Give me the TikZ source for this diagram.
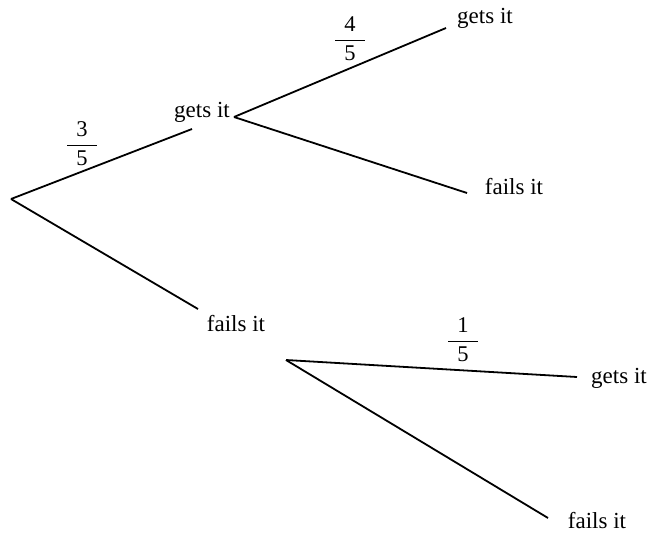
\documentclass[tikz,border=0pt]{standalone}
\usepackage{amsmath}
\usepackage{fontspec}
\setmainfont{Liberation Serif}
\usetikzlibrary{calc}

\begin{document}
\begin{tikzpicture}[x=1pt, y=-1pt]
  \tikzset{
    outcome/.style={inner sep=0pt, font=\fontsize{23}{27}\selectfont},
    prob/.style={inner sep=0pt, font=\fontsize{22.5}{26}\selectfont},
    branch/.style={line width=1.8pt},
  }

  \newcommand{\probfrac}[2]{$\displaystyle\genfrac{}{}{1.6pt}{0}{\hbox to 30pt{\hss#1\hss}}{\hbox{#2}}$}

  \useasboundingbox (0,0) rectangle (652,535);

  % labels
  \node[outcome] (G1) at (202,112) {gets it};
  \node[outcome] (F1) at (236,324) {fails it};
  \node[outcome] (G2) at (485,18)  {gets it};
  \node[outcome] (F2) at (514,187) {fails it};
  \node[outcome] (G3) at (619,378) {gets it};
  \node[outcome] (F3) at (597,521) {fails it};

  % branch points and line ends
  \coordinate (root) at (11,199);
  \coordinate (V1) at (234,117);
  \coordinate (V2) at (286,360);
  \coordinate (G1end) at (192,129);
  \coordinate (F1end) at (198,309);
  \coordinate (G2end) at (446,28);
  \coordinate (F2end) at (467,193);
  \coordinate (G3end) at (577,377);
  \coordinate (F3end) at (548,518);

  \draw[branch] (root) -- (G1end);
  \draw[branch] (root) -- (F1end);
  \draw[branch] (V1) -- (G2end);
  \draw[branch] (V1) -- (F2end);
  \draw[branch] (V2) -- (G3end);
  \draw[branch] (V2) -- (F3end);

  % probabilities
  \node[prob] (P1) at (82,144) {\probfrac{3}{5}};
  \node[prob] (P2) at (350,39) {\probfrac{4}{5}};
  \node[prob] (P3) at (463,340) {\probfrac{1}{5}};
\end{tikzpicture}
\end{document}
